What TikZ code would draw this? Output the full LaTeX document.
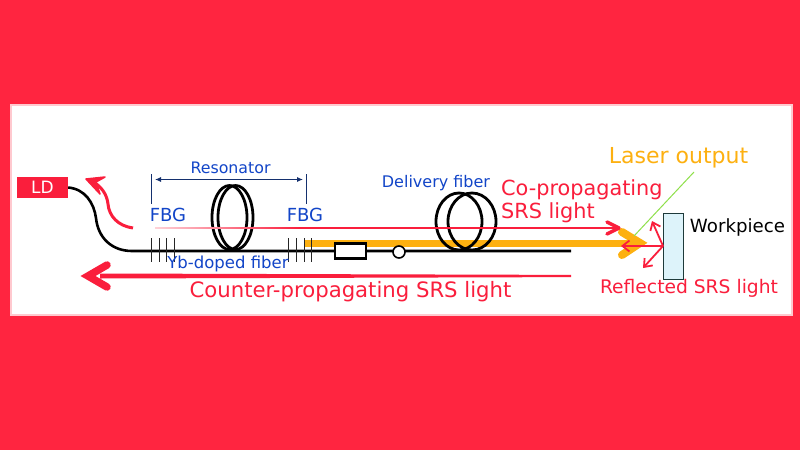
\documentclass[tikz,border=0pt]{standalone}
\usepackage{fontspec}
\setmainfont{DejaVu Sans}
\usetikzlibrary{arrows.meta}
\definecolor{bgred}{HTML}{FF2540}
\definecolor{srsred}{HTML}{FA1E3C}
\definecolor{laser}{HTML}{FDB010}
\definecolor{blue1}{HTML}{1245C8}
\definecolor{navy}{HTML}{14306E}
\definecolor{wp}{HTML}{DDF3FA}
\definecolor{wpe}{HTML}{1E3A3A}
\definecolor{grn}{HTML}{8FE04A}
\tikzset{
 lbl/.style={inner sep=0pt,anchor=center},
 bluetxt/.style={lbl,text=blue1},
 redtxt/.style={lbl,text=srsred},
 fiber/.style={draw=black,line width=2.6pt},
 coil/.style={draw=black,line width=2.8pt},
 tick/.style={draw=black!85,line width=1pt},
 refl/.style={draw=srsred,line width=1.8pt,-{Straight Barb[length=7pt,width=11pt,line width=1.8pt]}},
}
\begin{document}
\begin{tikzpicture}[x=1pt,y=-1pt]
\useasboundingbox (0,0) rectangle (800,450);
\fill[bgred] (0,0) rectangle (800,450);
\fill[white,draw=bgred!25,line width=1.5pt] (11,105) rectangle (792,315);
% Orange beam
\coordinate (bs) at (305,243);
\coordinate (bt) at (640,243);
\draw[laser,line width=7pt] (bs) -- (bt);
\draw[laser,line width=8pt,line cap=round,line join=miter] (622,232) -- (bt) -- (622,255);
% Fibre
\node[fill=srsred,text=white,minimum width=51pt,minimum height=21.5pt,inner sep=0pt,font=\fontsize{17}{18}\selectfont] (LD) at (42.5,187.5) {LD};
\coordinate (fe) at (571,251);
\draw[fiber] (LD.east) .. controls (85,189) and (94,203) .. (96,218) .. controls (98,238) and (112,251) .. (132,251) -- (fe);
% Coils
\path[coil] (229.5,217.5) ellipse [x radius=17.5,y radius=32];
\path[coil] (235.5,217.5) ellipse [x radius=17.5,y radius=32];
\path[coil] (459,221.5) ellipse [x radius=23,y radius=28.5];
\path[coil] (472,221.5) ellipse [x radius=24,y radius=28.5];
% FBG ticks
\foreach \x in {151,159,166,174,288,296,304,311} \draw[tick] (\x,238) -- (\x,262);
% Components
\node[draw=black,fill=white,line width=2.6pt,minimum width=31pt,minimum height=15pt,inner sep=0pt] (iso) at (350.5,251) {};
\node[draw=black,fill=white,circle,line width=1.6pt,minimum size=12pt,inner sep=0pt] (spl) at (399,252) {};
% Resonator
\coordinate (rl) at (151,174); \coordinate (rl2) at (151,204);
\coordinate (rr) at (306.5,174); \coordinate (rr2) at (306.5,204);
\draw[navy,line width=1pt] (rl) -- (rl2);
\draw[navy,line width=1pt] (rr) -- (rr2);
\draw[navy,line width=1pt,{Latex[length=6pt,width=5pt]}-{Latex[length=6pt,width=5pt]}] (155,179.5) -- (303,179.5);
% Co-propagating SRS
\coordinate (cs) at (155,228);
\coordinate (cm) at (300,228);
\coordinate (ct) at (619,228);
\shade[left color=srsred!20,right color=srsred] (155,227.4) rectangle (300,228.8);
\draw[srsred,line width=2.6pt] (cm) -- (ct);
\draw[srsred,line width=3.4pt,line cap=round,line join=round] (607,222) -- (ct) -- (607,234);
% Counter-propagating
\coordinate (ce) at (571,276);
\coordinate (ctip) at (88,276);
\fill[srsred] (571,274.9) -- (100,273.5) -- (100,278.5) -- (571,277.1) -- cycle;
\draw[srsred,line width=7.5pt,line cap=round,line join=miter] (107,265) -- (ctip) -- (107,287);
% Curved arrow
\draw[srsred,line width=3pt] (133,228) .. controls (118,226) and (109,216) .. (108,204) .. controls (107,195) and (102,186) .. (90,180);
\draw[srsred,line width=1.5pt,fill=srsred,line join=round] (86,179) -- (105,177) -- (96,182) -- (100,194) -- cycle;
% Laser output leader
\draw[grn,line width=1pt] (694,172) -- (634,236);
% Workpiece
\node[draw=wpe,fill=wp,line width=1pt,minimum width=20pt,minimum height=66pt,inner sep=0pt] (wp) at (673,246) {};
\coordinate (hit) at (663,246);
\draw[refl] (hit) -- (621,246);
\draw[refl] (hit) -- (652,221);
\draw[refl] (hit) -- (643,268);
% Labels
\node[bluetxt,font=\fontsize{15.8}{16}\selectfont] at (230.5,168) {Resonator};
\node[bluetxt,font=\fontsize{18}{19}\selectfont] at (168,215) {FBG};
\node[bluetxt,font=\fontsize{18}{19}\selectfont] at (305,215) {FBG};
\node[bluetxt,font=\fontsize{16.5}{17}\selectfont] at (228,264) {Yb-doped fiber};
\node[bluetxt,font=\fontsize{16}{17}\selectfont] at (436,183) {Delivery fiber};
\node[redtxt,font=\fontsize{20.8}{21}\selectfont,anchor=west] at (501,190) {Co-propagating};
\node[redtxt,font=\fontsize{20.8}{21}\selectfont,anchor=west] at (501,213) {SRS light};
\node[redtxt,font=\fontsize{21.2}{22}\selectfont] at (350.5,292) {Counter-propagating SRS light};
\node[redtxt,font=\fontsize{18.7}{19}\selectfont] at (689,288) {Reflected SRS light};
\node[lbl,text=laser,font=\fontsize{22}{23}\selectfont] at (678.5,158) {Laser output};
\node[lbl,text=black,font=\fontsize{18.2}{19}\selectfont] at (737.5,227) {Workpiece};
\end{tikzpicture}
\end{document}
